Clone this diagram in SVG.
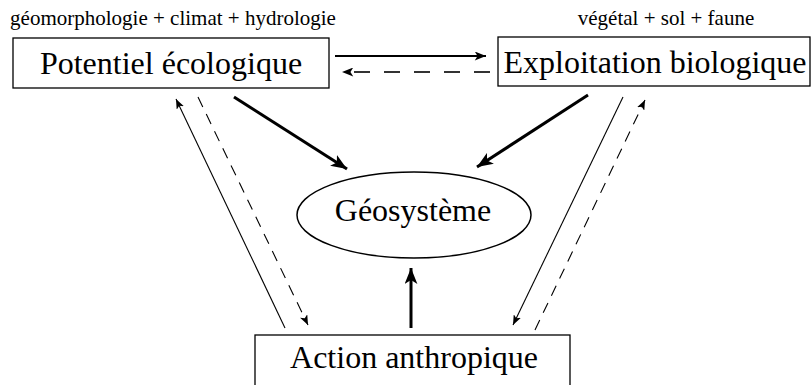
<svg xmlns="http://www.w3.org/2000/svg" width="812" height="385" viewBox="0 0 812 385">
<defs>
<marker id="ah" viewBox="0 0 10 8" refX="10" refY="4" markerWidth="10" markerHeight="8" markerUnits="userSpaceOnUse" orient="auto">
<path d="M0,0 L10,4 L0,8 L2.5,4 Z" fill="#000"/>
</marker>
<marker id="ahb" viewBox="0 0 10 8" refX="10" refY="4" markerWidth="16" markerHeight="13" markerUnits="userSpaceOnUse" orient="auto">
<path d="M0,0 L10,4 L0,8 L2.5,4 Z" fill="#000"/>
</marker>
<marker id="ahm" viewBox="0 0 10 8" refX="10" refY="4" markerWidth="13" markerHeight="9" markerUnits="userSpaceOnUse" orient="auto">
<path d="M0,0 L10,4 L0,8 L2.5,4 Z" fill="#000"/>
</marker>
</defs>
<rect width="812" height="385" fill="#fff"/>
<g id="labels" font-family="Liberation Serif" font-size="21" text-anchor="middle" fill="#000">
<text x="173" y="25">géomorphologie + climat + hydrologie</text>
<text x="666" y="25">végétal + sol + faune</text>
</g>
<g id="connectors" fill="none" stroke="#000">
<line stroke-width="1.8" x1="335" y1="56" x2="486" y2="56" marker-end="url(#ahm)"/>
<line stroke-width="1.8" stroke="#333" stroke-dasharray="16 14" x1="490" y1="72" x2="342" y2="72" marker-end="url(#ahm)"/>
<g stroke-width="3">
<line x1="234" y1="97" x2="347" y2="169" marker-end="url(#ahb)"/>
<line x1="588" y1="95" x2="477" y2="167" marker-end="url(#ahb)"/>
<line x1="411" y1="328" x2="411" y2="268" marker-end="url(#ahb)"/>
</g>
<g stroke-width="1.1">
<line x1="285" y1="328" x2="176" y2="99" marker-end="url(#ah)"/>
<line stroke-dasharray="11 8" x1="198" y1="97" x2="308" y2="325" marker-end="url(#ah)"/>
<line x1="623" y1="97" x2="513" y2="325" marker-end="url(#ah)"/>
<line stroke-dasharray="11 8" x1="535" y1="330" x2="645" y2="100" marker-end="url(#ah)"/>
</g>
</g>
<g id="potentiel">
<rect x="13" y="38" width="316" height="50" fill="#fff" stroke="#000" stroke-width="1.3"/>
<text x="171" y="74" font-family="Liberation Serif" font-size="32" text-anchor="middle">Potentiel écologique</text>
</g>
<g id="exploitation">
<rect x="498" y="37" width="312" height="49" fill="#fff" stroke="#000" stroke-width="1.3"/>
<text x="655" y="73" font-family="Liberation Serif" font-size="32" text-anchor="middle">Exploitation biologique</text>
</g>
<g id="geosysteme">
<ellipse cx="414" cy="215" rx="117" ry="43" fill="#fff" stroke="#000" stroke-width="1.5"/>
<text x="413" y="221" font-family="Liberation Serif" font-size="32" text-anchor="middle">Géosystème</text>
</g>
<g id="action">
<rect x="255" y="335" width="315" height="60" fill="#fff" stroke="#000" stroke-width="1.3"/>
<text x="414" y="368" font-family="Liberation Serif" font-size="32" text-anchor="middle">Action anthropique</text>
</g>
</svg>
